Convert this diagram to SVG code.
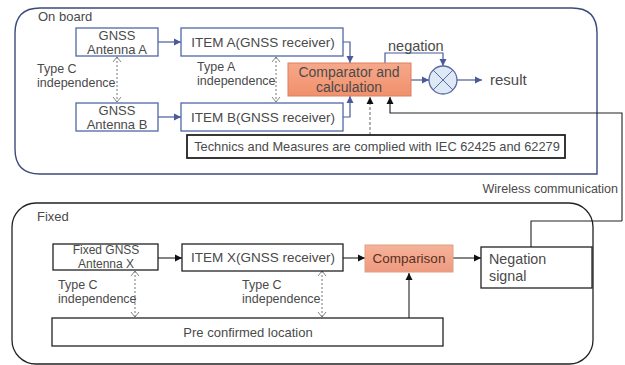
<svg xmlns="http://www.w3.org/2000/svg" width="625" height="365" viewBox="0 0 625 365">
<defs>
<marker id="ab" markerWidth="8" markerHeight="8" refX="7" refY="4" orient="auto" markerUnits="userSpaceOnUse"><path d="M0,0.5 L7,4 L0,7.5 Z" fill="#4a5a9a"/></marker>
<marker id="ak" markerWidth="8" markerHeight="8" refX="7" refY="4" orient="auto" markerUnits="userSpaceOnUse"><path d="M0,0.5 L7,4 L0,7.5 Z" fill="#111"/></marker>
<marker id="open" markerWidth="10" markerHeight="10" refX="5" refY="5" orient="auto-start-reverse" markerUnits="userSpaceOnUse"><path d="M0,1 L5,5 L0,9" fill="none" stroke="#666" stroke-width="0.8"/></marker>
<linearGradient id="org" x1="0" y1="0" x2="0" y2="1"><stop offset="0" stop-color="#f7a88a"/><stop offset="1" stop-color="#f0906c"/></linearGradient>
<linearGradient id="org2" x1="0" y1="0" x2="0" y2="1"><stop offset="0" stop-color="#f5b39a"/><stop offset="1" stop-color="#ee9a80"/></linearGradient>
</defs>
<style>
text{font-family:"Liberation Sans",Arial,sans-serif;fill:#4a4a4a;font-size:12.5px}
.c{text-anchor:middle}
.m{font-size:13.5px}
.bb{fill:#fff;stroke:#4f68a8;stroke-width:1.3}
.kb{fill:#fff;stroke:#222;stroke-width:1.3}
.ba{fill:none;stroke:#4a5a9a;stroke-width:1.2;marker-end:url(#ab)}
.ka{fill:none;stroke:#222;stroke-width:1.1;marker-end:url(#ak)}
.dd{fill:none;stroke:#666;stroke-width:0.9;stroke-dasharray:2,2;marker-start:url(#open);marker-end:url(#open)}
</style>
<rect width="625" height="365" fill="#fff"/>
<g id="onboard">
<path d="M40,8 H572 Q597,8 597,33 V174 H40 Q15,174 15,149 V33 Q15,8 40,8 Z" fill="none" stroke="#3c4a7c" stroke-width="1.4"/>
<text x="38" y="21" style="font-size:13px">On board</text>
</g>
<g id="fixed">
<rect x="12" y="203" width="581" height="161" rx="24" ry="24" fill="none" stroke="#222" stroke-width="1.3"/>
<text x="37" y="221" style="font-size:13px">Fixed</text>
</g>
<g id="connectors">
<path class="ba" d="M158,42 H181"/>
<path class="ba" d="M158,117 H181"/>
<path class="ba" d="M343,42 H350 V63"/>
<path class="ba" d="M343,117 H350 V96"/>
<path class="ba" d="M385,63 V53 H443 V66"/>
<path class="ba" d="M411,80 H429"/>
<path class="ba" d="M457,80 H482"/>
<path d="M370,135 V97" fill="none" stroke="#666" stroke-width="1" stroke-dasharray="3,2" marker-end="url(#ak)"/>
<path class="ka" d="M622,221 V113 H390 V97"/>
<path d="M531,247 V221 H622" fill="none" stroke="#222" stroke-width="1.1"/>
<path class="dd" d="M117,57 V102"/>
<path class="dd" d="M276,57 V102"/>
<path class="ka" d="M158,258 H182"/>
<path class="ka" d="M343,258 H365"/>
<path class="ka" d="M453,258 H481"/>
<path class="ka" d="M409,318 V273"/>
<path class="dd" d="M135,271 V317"/>
<path class="dd" d="M322,271 V317"/>
</g>
<g id="antennaA"><rect class="bb" x="76" y="28" width="82" height="28"/><text class="c" x="117" y="40" style="font-size:13px">GNSS</text><text class="c" x="117" y="54" style="font-size:13px">Antenna A</text></g>
<g id="antennaB"><rect class="bb" x="76" y="103" width="82" height="28"/><text class="c" x="117" y="115" style="font-size:13px">GNSS</text><text class="c" x="117" y="129" style="font-size:13px">Antenna B</text></g>
<g id="itemA"><rect class="bb" x="181" y="28" width="162" height="28"/><text class="c m" x="263" y="47">ITEM A(GNSS receiver)</text></g>
<g id="itemB"><rect class="bb" x="181" y="103" width="162" height="28"/><text class="c m" x="263" y="122">ITEM B(GNSS receiver)</text></g>
<g id="typeC1"><text x="37" y="73">Type C</text><text x="37" y="87">independence</text></g>
<g id="typeA"><text x="197" y="71">Type A</text><text x="197" y="85">independence</text></g>
<g id="comparator"><rect x="288" y="63" width="123" height="33" fill="url(#org)" stroke="#d98060" stroke-width="1"/><text class="c" x="349" y="77" style="font-size:14px">Comparator and</text><text class="c" x="349" y="92" style="font-size:14px">calculation</text></g>
<g id="negationLabel"><text x="388" y="51" style="font-size:14.5px">negation</text></g>
<g id="mixer"><circle cx="443" cy="80" r="14" fill="#dde9f5" stroke="#5a6aa0" stroke-width="1.3"/><path d="M433,70 L453,90 M453,70 L433,90" stroke="#5a6aa0" stroke-width="1"/></g>
<g id="result"><text x="490" y="85" style="font-size:15px">result</text></g>
<g id="technics"><rect x="187" y="135" width="378" height="23" fill="#fff" stroke="#222" stroke-width="1.8"/><text class="c" x="377" y="151" style="font-size:12.8px">Technics and Measures are complied with IEC 62425 and 62279</text></g>
<g id="wireless"><text x="618" y="193" text-anchor="end">Wireless communication</text></g>
<g id="antennaX"><rect class="kb" x="53" y="244" width="105" height="26"/><text class="c" x="106" y="254" style="font-size:12px">Fixed GNSS</text><text class="c" x="106" y="268" style="font-size:12px">Antenna X</text></g>
<g id="itemX"><rect class="kb" x="182" y="244" width="161" height="27"/><text class="c m" x="263" y="262">ITEM X(GNSS receiver)</text></g>
<g id="typeC2"><text x="58" y="289">Type C</text><text x="58" y="303">independence</text></g>
<g id="typeC3"><text x="242" y="289">Type C</text><text x="242" y="303">independence</text></g>
<g id="comparison"><rect x="365" y="245" width="88" height="27" fill="url(#org2)" stroke="#e0a080" stroke-width="1"/><text class="c m" x="409" y="263" style="fill:#5a3020">Comparison</text></g>
<g id="negation"><rect class="kb" x="481" y="247" width="111" height="41"/><text x="489" y="264" style="font-size:14.3px">Negation</text><text x="489" y="281" style="font-size:14.3px">signal</text></g>
<g id="location"><rect class="kb" x="52" y="318" width="391" height="28"/><text class="c" x="248" y="337" style="font-size:13px">Pre confirmed location</text></g>
</svg>
